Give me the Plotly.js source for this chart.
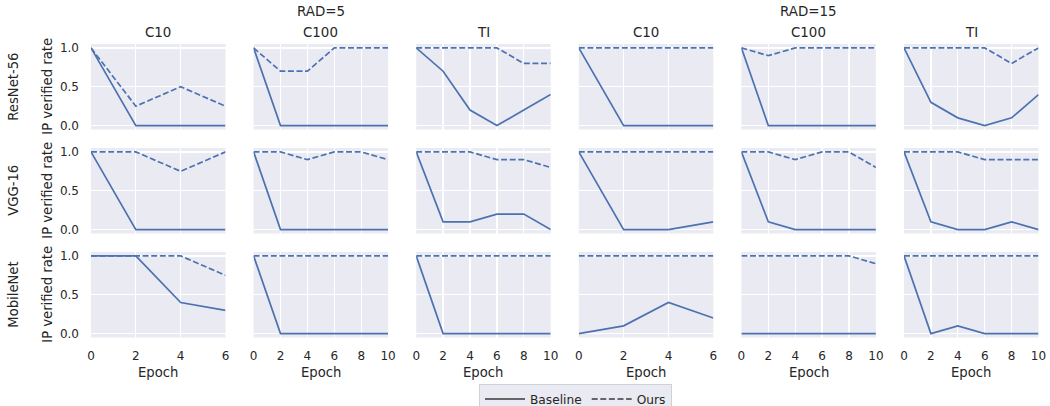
<!DOCTYPE html>
<html>
<head>
<meta charset="utf-8">
<script src="https://cdn.plot.ly/plotly-3.0.1.min.js"></script>
<style>html,body{margin:0;padding:0;background:#fff;overflow:hidden;}#chart{width:1050px;height:406px;}</style>
</head>
<body>
<div id="chart"></div>
<script>
// ---- data ----
const models = ['ResNet-56', 'VGG-16', 'MobileNet'];
const datasets = ['C10', 'C100', 'TI'];
const radii = ['RAD=5', 'RAD=15'];
const epochsC10 = [0, 2, 4, 6];
const epochsLong = [0, 2, 4, 6, 8, 10];
// panel order per row: RAD=5 C10, C100, TI, RAD=15 C10, C100, TI
const baselineResNet = [[1,0,0,0],[1,0,0,0,0,0],[1,0.7,0.2,0,0.2,0.4],[1,0,0,0],[1,0,0,0,0,0],[1,0.3,0.1,0,0.1,0.4]];
const oursResNet     = [[1,0.25,0.5,0.25],[1,0.7,0.7,1,1,1],[1,1,1,1,0.8,0.8],[1,1,1,1],[1,0.9,1,1,1,1],[1,1,1,1,0.8,1]];
const baselineVGG    = [[1,0,0,0],[1,0,0,0,0,0],[1,0.1,0.1,0.2,0.2,0],[1,0,0,0.1],[1,0.1,0,0,0,0],[1,0.1,0,0,0.1,0]];
const oursVGG        = [[1,1,0.75,1],[1,1,0.9,1,1,0.9],[1,1,1,0.9,0.9,0.8],[1,1,1,1],[1,1,0.9,1,1,0.8],[1,1,1,0.9,0.9,0.9]];
const baselineMobile = [[1,1,0.4,0.3],[1,0,0,0,0,0],[1,0,0,0,0,0],[0,0.1,0.4,0.2],[0,0,0,0,0,0],[1,0,0.1,0,0,0]];
const oursMobile     = [[1,1,1,0.75],[1,1,1,1,1,1],[1,1,1,1,1,1],[1,1,1,1],[1,1,1,1,1,0.9],[1,1,1,1,1,1]];
const yTicks = [0, 0.5, 1.0];
const yTickText = ['0.0', '0.5', '1.0'];

const baselineRows = [baselineResNet, baselineVGG, baselineMobile];
const oursRows = [oursResNet, oursVGG, oursMobile];

// ---- layout helpers ----
const W = 1050, H = 406;
const colX0 = 91, colStep = 162.6, colW = 134.5;
const rowTops = [44, 148, 252], rowH = 85.5;
const blue = '#4c72b0';
const textColor = '#262626';
const FONT = 'DejaVu Sans, sans-serif';

const traces = [];
const layout = {
  width: W, height: H,
  margin: {l: 0, r: 0, t: 0, b: 0, autoexpand: false},
  paper_bgcolor: '#ffffff',
  plot_bgcolor: '#eaeaf2',
  font: {family: FONT, color: textColor, size: 12},
  showlegend: true,
  legend: {
    orientation: 'h', x: 575.5 / W, xanchor: 'center', y: 1 - 383.5 / H, yanchor: 'top',
    bgcolor: '#eaeaf2', bordercolor: '#d0d0d8', borderwidth: 1,
    font: {family: FONT, size: 12.2, color: textColor}, itemwidth: 40, tracegroupgap: 0
  },
  annotations: []
};

for (let r = 0; r < 3; r++) {
  for (let c = 0; c < 6; c++) {
    const k = r * 6 + c + 1;
    const xs = (c % 3 === 0) ? epochsC10 : epochsLong;
    const xName = 'xaxis' + (k === 1 ? '' : k);
    const yName = 'yaxis' + (k === 1 ? '' : k);
    const xRef = 'x' + (k === 1 ? '' : k);
    const yRef = 'y' + (k === 1 ? '' : k);
    const x0 = colX0 + c * colStep;
    const top = rowTops[r];
    layout[xName] = {
      domain: [x0 / W, (x0 + colW) / W],
      anchor: yRef,
      range: [xs[0], xs[xs.length - 1]],
      tickvals: xs,
      ticktext: xs.map(String),
      showticklabels: r === 2,
      ticks: '', ticklabelstandoff: 9,
      showgrid: true, gridcolor: '#ffffff', gridwidth: 1.3,
      zeroline: false, showline: false,
      tickfont: {family: FONT, size: 12, color: textColor}
    };
    layout[yName] = {
      domain: [1 - (top + rowH) / H, 1 - top / H],
      anchor: xRef,
      range: [-0.05, 1.05],
      tickvals: yTicks, ticktext: yTickText,
      showticklabels: c === 0,
      ticks: '', ticklabelstandoff: 11,
      showgrid: true, gridcolor: '#ffffff', gridwidth: 1.3,
      zeroline: false, showline: false,
      tickfont: {family: FONT, size: 12, color: textColor}
    };
    traces.push({
      x: xs, y: baselineRows[r][c], xaxis: xRef, yaxis: yRef,
      mode: 'lines', line: {color: blue, width: 1.7},
      name: 'Baseline', showlegend: false, hoverinfo: 'skip'
    });
    traces.push({
      x: xs, y: oursRows[r][c], xaxis: xRef, yaxis: yRef,
      mode: 'lines', line: {color: blue, width: 1.7, dash: '6px,2.6px'},
      name: 'Ours', showlegend: false, hoverinfo: 'skip'
    });
    if (r === 2) {
      layout.annotations.push({
        text: 'Epoch', xref: 'paper', yref: 'paper',
        x: (x0 + colW / 2) / W, y: 1 - 372 / H, xanchor: 'center', yanchor: 'middle',
        showarrow: false, font: {family: FONT, size: 13.2, color: textColor}
      });
    }
    if (r === 0) {
      layout.annotations.push({
        text: datasets[c % 3], xref: 'paper', yref: 'paper',
        x: (x0 + colW / 2) / W, y: 1 - 33 / H, xanchor: 'center', yanchor: 'middle',
        showarrow: false, font: {family: FONT, size: 13.4, color: textColor}
      });
    }
  }
  const cy = rowTops[r] + rowH / 2;
  layout.annotations.push({
    text: models[r], xref: 'paper', yref: 'paper', x: 14 / W, y: 1 - cy / H,
    xanchor: 'center', yanchor: 'middle', textangle: -90, showarrow: false,
    font: {family: FONT, size: 13.2, color: textColor}
  });
  layout.annotations.push({
    text: 'IP verified rate', xref: 'paper', yref: 'paper', x: 48 / W, y: 1 - cy / H,
    xanchor: 'center', yanchor: 'middle', textangle: -90, showarrow: false,
    font: {family: FONT, size: 13.2, color: textColor}
  });
}
for (let g = 0; g < 2; g++) {
  const cx = colX0 + (g * 3 + 1) * colStep + colW / 2;
  layout.annotations.push({
    text: radii[g], xref: 'paper', yref: 'paper', x: cx / W, y: 1 - 12 / H,
    xanchor: 'center', yanchor: 'middle', showarrow: false,
    font: {family: FONT, size: 13.4, color: textColor}
  });
}
// legend entries (dark gray keys as in the reference)
traces.push({x: [null], y: [null], mode: 'lines', name: 'Baseline', line: {color: '#3a3a3a', width: 1.7}, showlegend: true, hoverinfo: 'skip'});
traces.push({x: [null], y: [null], mode: 'lines', name: 'Ours', line: {color: '#3a3a3a', width: 1.7, dash: '6px,2.6px'}, showlegend: true, hoverinfo: 'skip'});

Plotly.newPlot('chart', traces, layout, {staticPlot: true, displayModeBar: false});
</script>
</body>
</html>
